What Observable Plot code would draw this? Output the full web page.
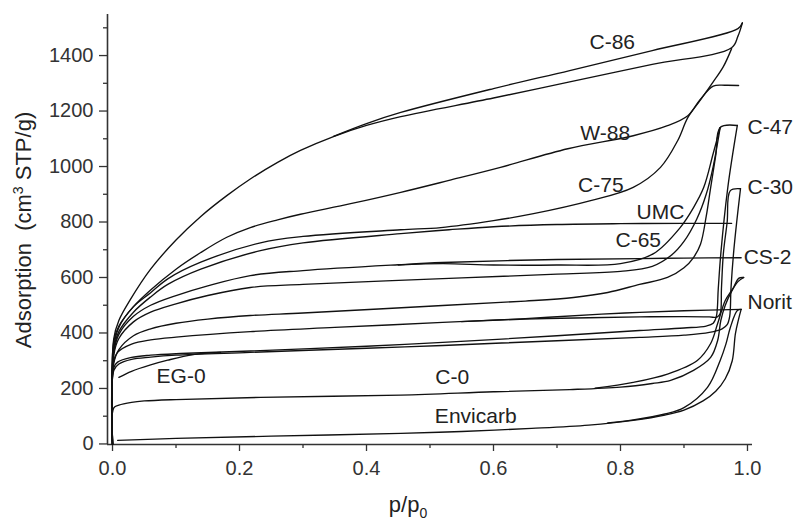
<!DOCTYPE html>
<html><head><meta charset="utf-8">
<script src="https://cdn.jsdelivr.net/npm/d3@7"></script>
<script src="https://cdn.jsdelivr.net/npm/@observablehq/plot@0.6"></script>
<style>body{margin:0;background:#fff;} #chart svg{display:block}</style>
</head><body><div id="chart"></div>
<script>
// ---- isotherm branches: [p/p0, adsorption cm3 STP/g] ----
const C86_ads = [[0,0],[0.002,380],[0.01,445],[0.028,520],[0.06,630],[0.1,735],[0.139,820],[0.18,895],[0.217,955],[0.26,1015],[0.296,1058],[0.348,1108],[0.4,1148],[0.454,1180],[0.6,1247],[0.72,1305],[0.85,1368],[0.975,1428],[0.985,1470],[0.992,1518]];
const C86_des = [[0.992,1518],[0.985,1497],[0.85,1418],[0.72,1346],[0.6,1281],[0.454,1195],[0.4,1155],[0.348,1109]];
const W88 = [[0,0],[0.002,370],[0.01,425],[0.033,495],[0.06,555],[0.1,630],[0.139,690],[0.18,745],[0.217,780],[0.26,808],[0.296,828],[0.375,866],[0.454,907],[0.53,950],[0.611,997],[0.717,1064],[0.82,1111],[0.874,1147],[0.906,1183],[0.925,1240],[0.946,1290],[0.965,1293],[0.986,1292]];
const C75 = [[0,0],[0.002,350],[0.01,420],[0.033,495],[0.06,545],[0.087,595],[0.139,655],[0.233,725],[0.3,748],[0.454,772],[0.517,780],[0.6,805],[0.663,830],[0.753,877],[0.82,925],[0.863,997],[0.89,1093],[0.906,1176],[0.926,1240],[0.946,1305],[0.962,1360],[0.975,1425]];
const UMC = [[0,0],[0.002,340],[0.01,405],[0.033,475],[0.06,530],[0.087,575],[0.139,630],[0.233,697],[0.3,725],[0.454,758],[0.53,772],[0.6,783],[0.7,791],[0.8,794],[0.9,795],[0.975,795]];
const CS2 = [[0,0],[0.002,330],[0.01,395],[0.033,460],[0.06,500],[0.1,535],[0.15,570],[0.217,607],[0.3,625],[0.45,646],[0.52,654],[0.7,665],[0.83,668],[0.9,670],[0.99,671]];
const C65_ads = [[0,0],[0.002,320],[0.01,380],[0.033,440],[0.06,475],[0.1,505],[0.15,535],[0.217,564],[0.3,575],[0.52,596],[0.7,612],[0.8,622],[0.85,640],[0.88,680],[0.9,730],[0.92,810],[0.935,900],[0.946,1000],[0.957,1141]];
const C65_des = [[0.957,1141],[0.946,1047],[0.931,924],[0.915,852],[0.894,780],[0.852,686],[0.8,650],[0.7,645],[0.6,645],[0.52,650],[0.45,645]];
const C47_des = [[0,0],[0.002,290],[0.01,340],[0.033,390],[0.06,415],[0.1,435],[0.15,450],[0.217,463],[0.3,472],[0.52,499],[0.65,515],[0.726,528],[0.78,546],[0.83,575],[0.874,600],[0.9,635],[0.915,672],[0.926,720],[0.935,820],[0.942,924],[0.95,1040],[0.957,1141],[0.984,1148]];
const C47_ads = [[0,0],[0.002,275],[0.008,295],[0.03,312],[0.06,320],[0.107,326],[0.217,335],[0.4,352],[0.52,366],[0.7,390],[0.83,409],[0.9,418],[0.935,425],[0.946,435],[0.951,460],[0.954,560],[0.958,686],[0.969,924],[0.984,1148]];
const C30_ads = [[0,0],[0.002,265],[0.01,288],[0.03,305],[0.06,313],[0.1,320],[0.217,330],[0.4,345],[0.52,355],[0.7,372],[0.83,384],[0.9,392],[0.94,402],[0.96,415],[0.968,430],[0.972,460],[0.974,560],[0.978,686],[0.983,800],[0.989,920]];
const C30_des = [[0.989,920],[0.973,913],[0.968,800],[0.962,686],[0.959,560],[0.957,470],[0.952,457],[0.94,458],[0.9,459],[0.83,458],[0.75,455],[0.65,450],[0.55,441]];
const Norit = [[0,0],[0.002,300],[0.008,330],[0.03,360],[0.06,375],[0.1,385],[0.217,405],[0.35,420],[0.52,438],[0.65,452],[0.77,468],[0.83,474],[0.9,480],[0.99,485]];
const EG0 = [[0.01,240],[0.03,262],[0.06,285],[0.087,302],[0.127,322],[0.17,330]];
const C0_ads = [[0,0],[0.002,130],[0.01,140],[0.03,150],[0.05,155],[0.1,160],[0.233,168],[0.454,176],[0.6,188],[0.72,196],[0.8,205],[0.85,218],[0.879,229],[0.915,265],[0.942,312],[0.953,373],[0.958,445],[0.965,500],[0.975,550],[0.985,585],[0.994,600]];
const C0_des = [[0.994,600],[0.986,597],[0.978,564],[0.965,517],[0.953,434],[0.942,362],[0.921,301],[0.874,252],[0.82,222],[0.76,201]];
const Envicarb_ads = [[0.008,13],[0.1,20],[0.25,28],[0.454,38],[0.55,45],[0.66,56],[0.75,68],[0.82,85],[0.87,104],[0.9,122],[0.93,155],[0.95,190],[0.965,235],[0.976,300],[0.981,398],[0.986,450],[0.99,485]];
const Envicarb_des = [[0.99,485],[0.984,481],[0.973,420],[0.966,360],[0.957,301],[0.937,204],[0.9,131],[0.87,108],[0.82,87],[0.78,76]];

// ---- sample labels (anchored in data coordinates) ----
const labelText = ["C-86","W-88","C-75","UMC","C-65","C-47","C-30","CS-2","Norit","EG-0","C-0","Envicarb"];
const labelP    = [0.787,0.776,0.769,0.863,0.828,1.0,1.0,0.994,1.0,0.108,0.535,0.572];
const labelV    = [1447,1119,931,834,733,1141,924,672,510,243,240,99];
const labelAnchor = ["middle","middle","middle","middle","middle","start","start","start","start","middle","middle","middle"];

// ---- ticks ----
const xMajor = [0,0.2,0.4,0.6,0.8,1.0];
const xMinor = [0.1,0.3,0.5,0.7,0.9];
const yMajor = [0,200,400,600,800,1000,1200,1400];
const yMinor = [100,300,500,700,900,1100,1300,1500];

const series = [
  ["C-86 ads",C86_ads],["C-86 des",C86_des],["W-88",W88],["C-75",C75],["UMC",UMC],["CS-2",CS2],
  ["C-65 ads",C65_ads],["C-65 des",C65_des],["C-47 ads",C47_ads],["C-47 des",C47_des],
  ["C-30 ads",C30_ads],["C-30 des",C30_des],["Norit",Norit],["EG-0",EG0],
  ["C-0 ads",C0_ads],["C-0 des",C0_des],["Envicarb ads",Envicarb_ads],["Envicarb des",Envicarb_des]
];
const rows = series.flatMap(([name, pts]) => pts.map(([p, v]) => ({name, p, v})));
const labels = labelText.map((t, i) => ({t, p: labelP[i], v: labelV[i], a: labelAnchor[i]}));

const xDom = [-0.0079, 1.0079];
const yDom = [-2, 1548];
const axisColor = "#333";

const chart = Plot.plot({
  width: 802, height: 522,
  marginLeft: 107, marginRight: 50, marginTop: 14, marginBottom: 78,
  x: {domain: xDom},
  y: {domain: yDom},
  style: {fontFamily: "'Liberation Sans', Arial, sans-serif", background: "#fff", color: axisColor},
  marks: [
    Plot.axisX({ticks: xMajor, tickSize: 7, tickPadding: 9, tickFormat: d3.format(".1f"), fontSize: 20, label: null, stroke: axisColor, strokeWidth: 1.3}),
    Plot.axisX({ticks: xMinor, tickSize: 4, tickFormat: () => "", label: null, stroke: axisColor, strokeWidth: 1.3}),
    Plot.axisY({ticks: yMajor, tickSize: 8, tickPadding: 6, tickFormat: d3.format("d"), fontSize: 20, label: null, stroke: axisColor, strokeWidth: 1.3}),
    Plot.axisY({ticks: yMinor, tickSize: 4, tickFormat: () => "", label: null, stroke: axisColor, strokeWidth: 1.3}),
    Plot.ruleY([yDom[0]], {stroke: axisColor, strokeWidth: 1.6}),
    Plot.ruleX([xDom[0]], {stroke: axisColor, strokeWidth: 1.6}),
    Plot.line(rows, {x: "p", y: "v", z: "name", curve: "catmull-rom", stroke: "#111", strokeWidth: 1.35}),
    Plot.text(labels.filter(d => d.a === "middle"), {x: "p", y: "v", text: "t", textAnchor: "middle", fontSize: 21, fill: "#222"}),
    Plot.text(labels.filter(d => d.a === "start"), {x: "p", y: "v", text: "t", textAnchor: "start", fontSize: 21, fill: "#222"})
  ]
});

const svg = d3.select(chart);
const yl = svg.append("text")
  .attr("transform", "translate(31,230) rotate(-90)")
  .attr("text-anchor", "middle")
  .attr("font-size", 22).attr("fill", "#222")
  .attr("font-family", "'Liberation Sans', Arial, sans-serif");
yl.append("tspan").text("Adsorption\u00a0\u00a0(cm");
yl.append("tspan").attr("font-size", 14).attr("dy", -8).text("3");
yl.append("tspan").attr("dy", 8).text(" STP/g)");
const xl = svg.append("text")
  .attr("x", 408).attr("y", 512)
  .attr("font-size", 22).attr("fill", "#222")
  .attr("font-family", "'Liberation Sans', Arial, sans-serif");
xl.append("tspan").text("p/p");
xl.append("tspan").attr("font-size", 14).attr("dy", 6).text("0");

document.getElementById("chart").appendChild(chart);
</script>
</body></html>
